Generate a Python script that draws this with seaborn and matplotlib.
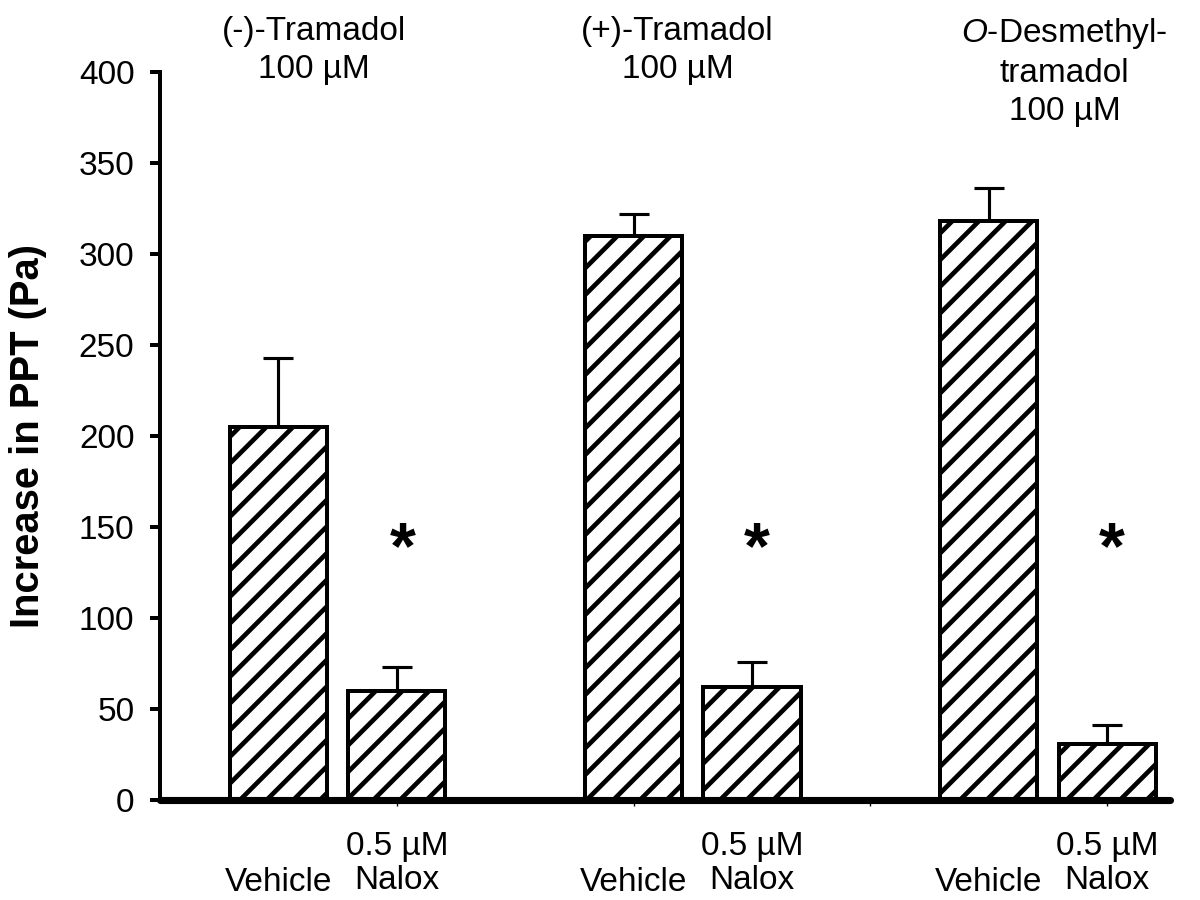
import numpy as np
import pandas as pd
import seaborn as sns
import matplotlib.pyplot as plt
import matplotlib.transforms as mtransforms

# values (Pa)
positions = [0, 1, 3, 4, 6, 7]
means = [205, 60, 310, 62, 318, 31]
sem = [38, 13, 12, 14, 18, 10]
treatments = ["Vehicle", "0.5 µM\nNalox", "Vehicle", "0.5 µM\nNalox", "Vehicle", "0.5 µM\nNalox"]
drugs = ["(-)-Tramadol\n100 µM", "(+)-Tramadol\n100 µM", "$\\it{O}$-Desmethyl-\ntramadol\n100 µM"]
drug_x = [0.3, 3.37, 6.64]
star_x = [1.05, 4.04, 7.04]
y_ticks = list(range(0, 401, 50))

df = pd.DataFrame({"pos": positions, "mean": means, "sem": sem, "treatment": treatments})

sns.set_style("white")
plt.rcParams["font.family"] = ["Liberation Sans", "DejaVu Sans"]
plt.rcParams["mathtext.fontset"] = "custom"
plt.rcParams["mathtext.rm"] = "Liberation Sans"
plt.rcParams["mathtext.it"] = "Liberation Sans:italic"
plt.rcParams["hatch.linewidth"] = 2.1
for k in ["text.color", "axes.labelcolor", "xtick.color", "ytick.color", "axes.edgecolor"]:
    plt.rcParams[k] = "black"

fig = plt.figure(figsize=(7.5, 5.625), dpi=160)
ax = fig.add_axes([160 / 1200, 100 / 900, 1010 / 1200, 728 / 900])

sns.barplot(data=df, x="pos", y="mean", native_scale=True, orient="x", width=0.82,
            color="white", edgecolor="black", linewidth=1.8, hatch="//",
            errorbar=None, ax=ax)

ax.errorbar(df["pos"], df["mean"], yerr=[np.zeros(len(df)), df["sem"]], fmt="none",
            ecolor="black", elinewidth=1.4, capsize=6.8, capthick=1.4, zorder=0.5)

ax.set_xlim(-1.0, 7.53)
ax.set_ylim(0, 400)
ax.set_yticks(y_ticks)
ax.set_xticks([1, 3, 5, 7])
ax.set_xticklabels([])
ax.tick_params(axis="y", direction="out", length=4.5, width=1.8, labelsize=15, pad=7, left=True)
ax.tick_params(axis="x", direction="out", length=2.5, width=0.6, bottom=True)
ax.set_xlabel("")
ax.set_ylabel("Increase in PPT (Pa)", fontsize=18, fontweight="bold")
ax.yaxis.set_label_coords(-0.112, 0.5)

sns.despine(ax=ax)
ax.spines["left"].set_linewidth(1.8)
ax.spines["bottom"].set_linewidth(3.2)
ax.spines["bottom"].set_capstyle("round")

trans = mtransforms.blended_transform_factory(ax.transData, ax.transAxes)
for x, t in zip(drug_x, drugs):
    ax.text(x, 1.077, t, transform=trans, ha="center", va="top", fontsize=15,
            linespacing=1.3, clip_on=False)

for x, t in zip(positions, treatments):
    y = -0.042 if "\n" in t else -0.092
    ax.text(x, y, t, transform=trans, ha="center", va="top", fontsize=15,
            linespacing=1.15, clip_on=False)

for x in star_x:
    ax.text(x, 137, "*", ha="center", va="center", fontsize=30, fontweight="bold")

fig.savefig("out.png", dpi=160)
